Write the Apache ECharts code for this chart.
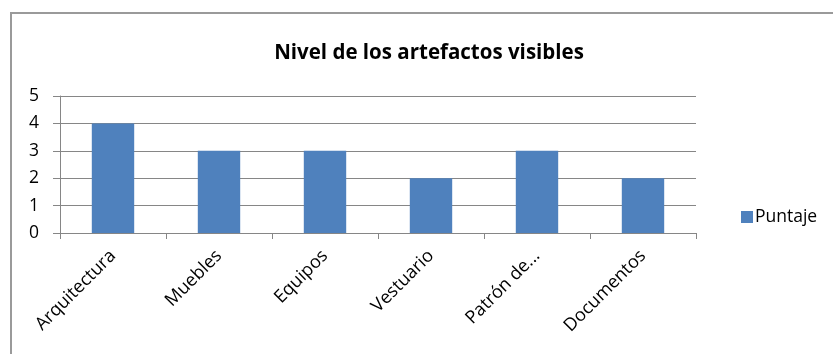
<!DOCTYPE html>
<html>
<head>
<meta charset="utf-8">
<script src="https://cdn.jsdelivr.net/npm/echarts@6/dist/echarts.min.js"></script>
<style>
  html, body { margin: 0; padding: 0; background: #fff; }
  #frame { position: absolute; left: 10px; top: 12px; width: 900px; height: 400px; border-left: 2px solid #9a9a9a; border-top: 2px solid #9a9a9a; box-sizing: border-box; }
  #chart { position: absolute; left: 0; top: 0; width: 833px; height: 354px; }
</style>
</head>
<body>
<div id="frame"></div>
<div id="chart"></div>
<script>
const categories = ['Arquitectura', 'Muebles', 'Equipos', 'Vestuario', 'Patrón de...', 'Documentos'];
const puntaje = [4, 3, 3, 2, 3, 2];
const yTicks = { min: 0, max: 5, interval: 1 };

const font = '"Open Sans", "Noto Sans", sans-serif';
const chart = echarts.init(document.getElementById('chart'), null, { renderer: 'canvas' });
chart.setOption({
  animation: false,
  title: {
    text: 'Nivel de los artefactos visibles',
    left: 424, top: 38, textAlign: 'center',
    textStyle: { fontFamily: font, fontWeight: 'bold', fontSize: 20.5, color: '#000' }
  },
  legend: {
    left: 736, top: 203,
    itemWidth: 12, itemHeight: 12, itemGap: 5,
    icon: 'rect',
    textStyle: { fontFamily: font, fontSize: 17.5, color: '#000', padding: [0, 0, 0, -3] },
    data: ['Puntaje']
  },
  grid: { left: 60, right: 137, top: 96, height: 137, containLabel: false },
  xAxis: {
    type: 'category',
    data: categories,
    axisLine: { lineStyle: { color: '#868686', width: 1 } },
    axisTick: { show: true, length: 6, alignWithLabel: false, lineStyle: { color: '#868686' } },
    axisLabel: { rotate: 45, margin: 20, fontFamily: font, fontSize: 18, color: '#000', interval: 0 }
  },
  yAxis: {
    type: 'value',
    min: yTicks.min, max: yTicks.max, interval: yTicks.interval,
    axisLine: { show: true, lineStyle: { color: '#868686', width: 1 } },
    axisTick: { show: true, length: 7, lineStyle: { color: '#868686' } },
    axisLabel: { margin: 21, fontFamily: font, fontSize: 17.5, color: '#000' },
    splitLine: { show: true, lineStyle: { color: '#868686', width: 1 } }
  },
  series: [{
    name: 'Puntaje',
    type: 'bar',
    data: puntaje,
    barWidth: '40%',
    itemStyle: { color: '#4F81BD' }
  }]
});
</script>
</body>
</html>
